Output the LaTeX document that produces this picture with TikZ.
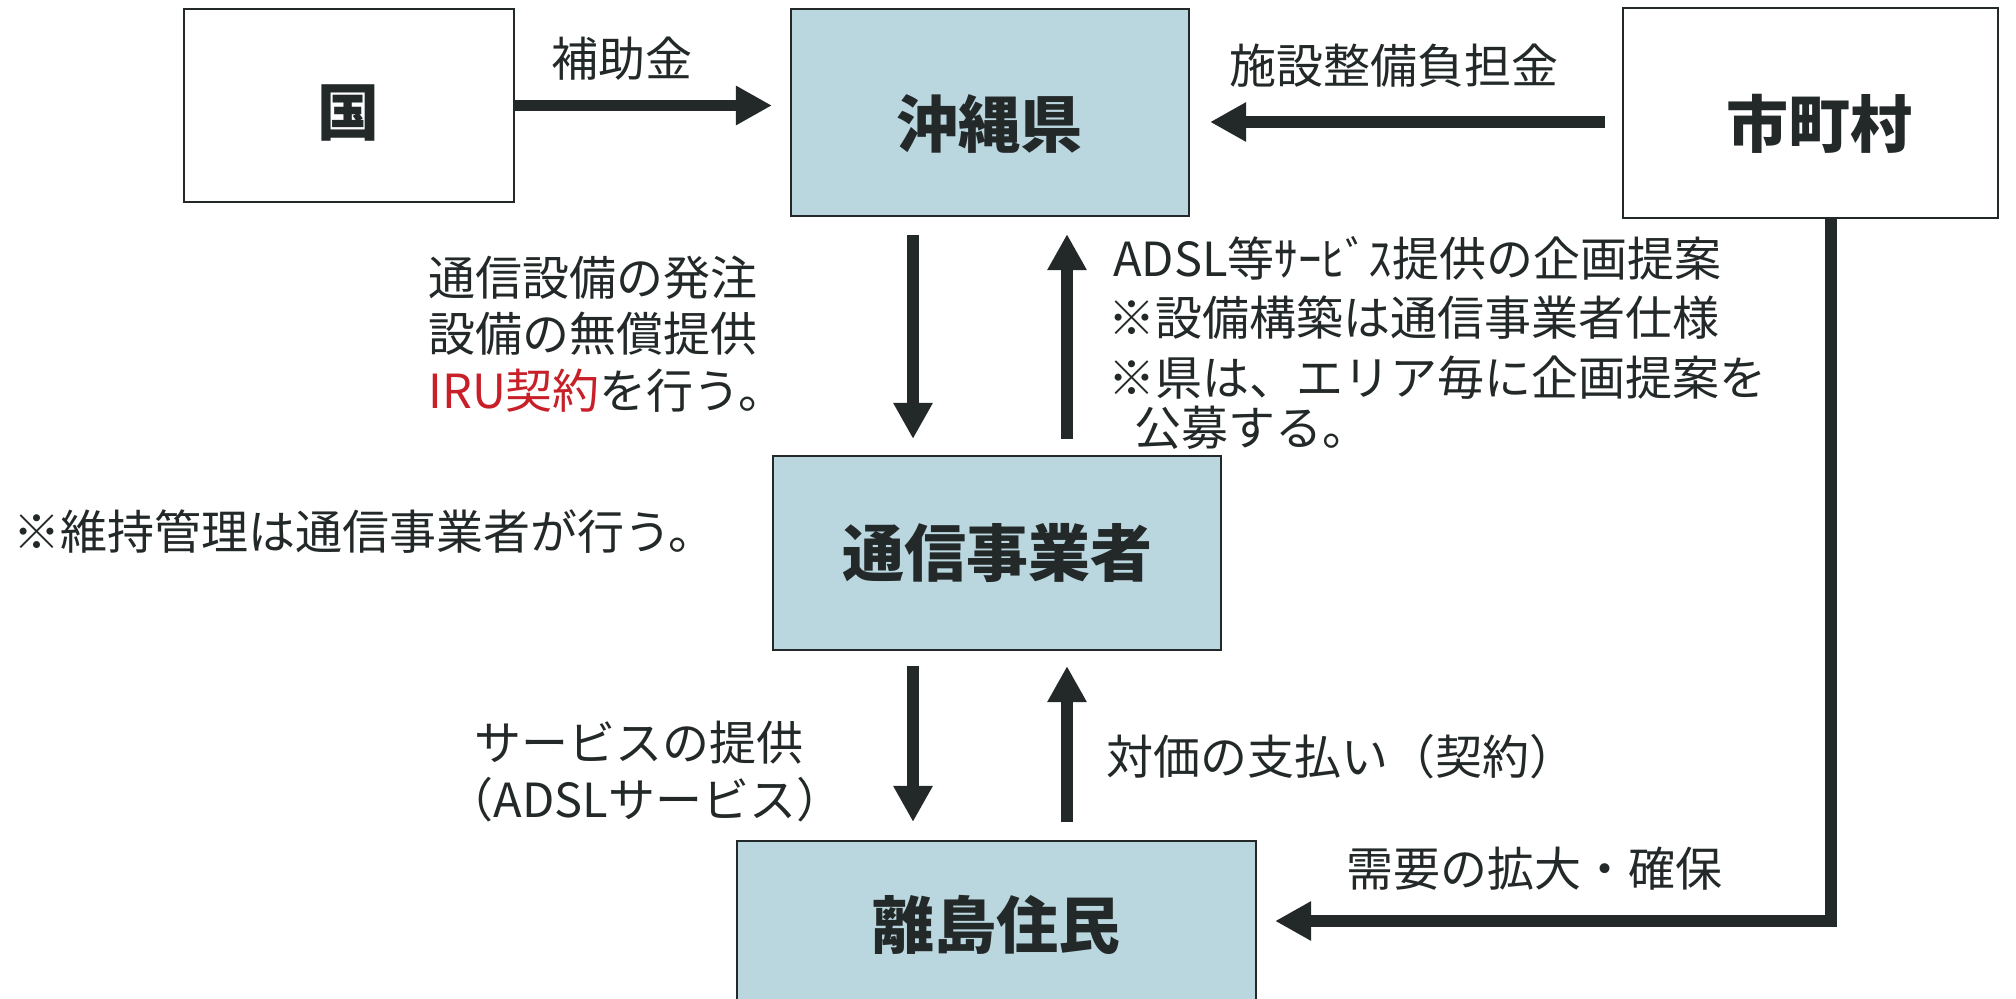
\documentclass[tikz,border=0pt]{standalone}
\usepackage{fontspec}
\setmainfont{Noto Sans CJK JP}
\usetikzlibrary{arrows.meta}
\definecolor{boxfill}{RGB}{186,215,223}
\definecolor{ink}{RGB}{35,40,40}
\definecolor{iru}{RGB}{200,32,40}
\begin{document}
\begin{tikzpicture}[x=0.5pt,y=-0.5pt,
  box/.style={draw=ink, line width=1.1pt, inner sep=0pt},
  bluebox/.style={box, fill=boxfill},
  ttl/.style={text=ink, inner sep=0pt, font=\fontsize{31pt}{36pt}\selectfont\bfseries},
  lbl/.style={text=ink, inner sep=0pt, font=\fontsize{23.5pt}{28pt}\selectfont},
  arr/.style={draw=ink, line width=5.8pt, line join=miter, -{Triangle[length=18pt,width=18.5pt]}}]
\clip (0,0) rectangle (2016,999);
\fill[white] (0,0) rectangle (2016,999);
% boxes
\node[box, minimum width=165pt, minimum height=96.5pt] (kuni) at (349,105.5) {};
\node[bluebox, minimum width=199pt, minimum height=103.5pt] (okinawa) at (990,112.5) {};
\node[box, minimum width=187.5pt, minimum height=105pt] (shichoson) at (1810.5,113) {};
\node[bluebox, minimum width=224pt, minimum height=97pt] (tsushin) at (997,553) {};
\node[bluebox, minimum width=259.5pt, minimum height=84.5pt] (ritou) at (996.5,925.5) {};
% box titles
\node[ttl] (kuniT) at (348,113) {国};
\node[ttl] (okinawaT) at (989,124) {沖縄県};
\node[ttl] (shichosonT) at (1819,124) {市町村};
\node[ttl] (tsushinT) at (997,553) {通信事業者};
\node[ttl] (ritouT) at (996,925) {離島住民};
% helper coordinates
\coordinate (xL) at (913,0);
\coordinate (xR) at (1067,0);
\coordinate (corner) at (1831,921);
% arrows
\draw[arr, shorten >=9pt] (kuni.east) -- (kuni.east -| okinawa.west);
\draw[arr, shorten <=8.5pt, shorten >=10pt] ([yshift=-4.5pt]shichoson.west) -- ([yshift=-4.5pt]shichoson.west -| okinawa.east);
\draw[arr, shorten <=9pt, shorten >=8pt] (okinawa.south -| xL) -- (tsushin.north -| xL);
\draw[arr, shorten <=8pt, shorten >=8.5pt] (tsushin.north -| xR) -- (okinawa.south -| xR);
\draw[arr, shorten <=7.5pt, shorten >=9pt] (tsushin.south -| xL) -- (ritou.north -| xL);
\draw[arr, shorten <=9pt, shorten >=7.5pt] (ritou.north -| xR) -- (tsushin.south -| xR);
\draw[arr, shorten >=9pt] (shichoson.south -| corner) -- (corner) -- (corner -| ritou.east);
% labels
\node[lbl] (hojo) at (622,59) {補助金};
\node[lbl] (shisetsu) at (1394,66) {施設整備負担金};
\node[lbl, anchor=west] (left1) at (428,278) {通信設備の発注};
\node[lbl, anchor=west] (left2) at (428,334) {設備の無償提供};
\node[lbl, anchor=west] (left3) at (428,391) {\textcolor{iru}{IRU契約}を行う。};
\node[lbl, anchor=west] (right1) at (1113,258) {ADSL等ｻｰﾋﾞｽ提供の企画提案};
\node[lbl, anchor=west] (right2) at (1108,318) {※設備構築は通信事業者仕様};
\node[lbl, anchor=west] (right3) at (1108,378) {※県は、エリア毎に企画提案を};
\node[lbl, anchor=west] (right4) at (1134,428) {公募する。};
\node[lbl, anchor=west] (iji) at (13,532) {※維持管理は通信事業者が行う。};
\node[lbl] (svc1) at (639,743) {サービスの提供};
\node[lbl] (svc2) at (645,800) {（ADSLサービス）};
\node[lbl, anchor=west] (taika) at (1106,757) {対価の支払い（契約）};
\node[lbl, anchor=west] (juyou) at (1346,869) {需要の拡大・確保};
\end{tikzpicture}
\end{document}
